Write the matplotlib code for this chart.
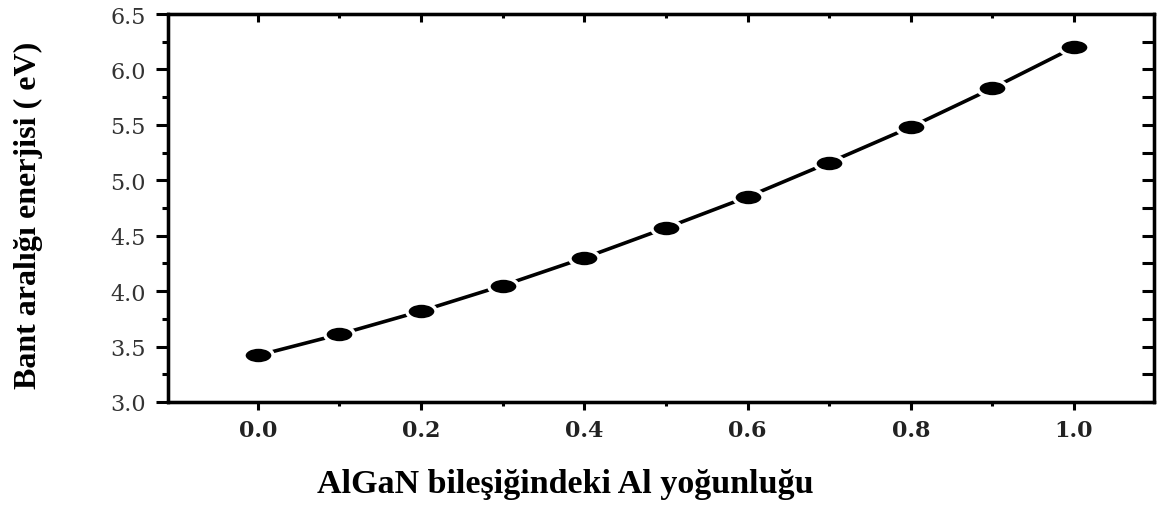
import numpy as np
import matplotlib
matplotlib.use("Agg")
import matplotlib.pyplot as plt
from matplotlib.path import Path
from matplotlib.transforms import Affine2D

# Data
al_fraction = [0.0, 0.1, 0.2, 0.3, 0.4, 0.5, 0.6, 0.7, 0.8, 0.9, 1.0]
band_gap = [3.42, 3.61, 3.82, 4.05, 4.30, 4.57, 4.85, 5.16, 5.48, 5.83, 6.20]
x_ticks = [0.0, 0.2, 0.4, 0.6, 0.8, 1.0]
x_tick_labels = ["0.0", "0.2", "0.4", "0.6", "0.8", "1.0"]
y_ticks = [3.0, 3.5, 4.0, 4.5, 5.0, 5.5, 6.0, 6.5]
y_tick_labels = ["3.0", "3.5", "4.0", "4.5", "5.0", "5.5", "6.0", "6.5"]
x_label = "AlGaN bileşiğindeki Al yoğunluğu"
y_label = "Bant aralığı enerjisi ( eV)"

W, H = 1169, 510
fig = plt.figure(figsize=(W / 100, H / 100), dpi=100)
ax = fig.add_axes([168 / W, 1 - 403 / H, 986 / W, 388 / H])

ellipse = Path.unit_circle().transformed(Affine2D().scale(1.0, 0.58))

ax.plot(al_fraction, band_gap, color="black", lw=2.6, zorder=2)
ax.plot(al_fraction, band_gap, ls="none", marker=ellipse, ms=21,
        mfc="black", mec="white", mew=2.5, zorder=3)

ax.set_xlim(-0.11, 1.098)
ax.set_ylim(3.0, 6.5)

for s in ax.spines.values():
    s.set_linewidth(2.3)

ax.set_xticks(x_ticks)
ax.set_xticklabels(x_tick_labels, fontfamily="DejaVu Serif", fontweight="bold",
                   fontsize=16, color="#222222")
ax.set_xticks(np.arange(0.1, 1.0, 0.2), minor=True)
ax.set_yticks(y_ticks)
ax.set_yticklabels(y_tick_labels, fontfamily="DejaVu Serif", fontsize=16,
                   color="#333333")
ax.set_yticks(np.arange(3.25, 6.5, 0.5), minor=True)

ax.tick_params(axis="x", which="major", direction="out", length=6, width=2.2, pad=6)
ax.tick_params(axis="x", which="minor", direction="out", length=3, width=2.2)
ax.tick_params(axis="y", which="major", direction="out", length=9, width=2.2, pad=7)
ax.tick_params(axis="y", which="minor", direction="out", length=4.5, width=2.2)

# right ticks (inward, every 0.25)
axr = ax.twinx()
axr.set_ylim(3.0, 6.5)
axr.set_yticks(np.arange(3.0, 6.51, 0.25))
axr.tick_params(axis="y", direction="in", length=9, width=2.2, labelright=False)
# top ticks (inward)
axt = ax.twiny()
axt.set_xlim(-0.11, 1.098)
axt.set_xticks(x_ticks)
axt.set_xticks(np.arange(0.1, 1.0, 0.2), minor=True)
axt.tick_params(axis="x", which="major", direction="in", length=6, width=2.2, labeltop=False)
axt.tick_params(axis="x", which="minor", direction="in", length=3, width=2.2)
for a in (axr, axt):
    for s in a.spines.values():
        s.set_linewidth(2.3)

fig.text(565 / W, 1 - 485 / H, x_label, ha="center", va="center",
         fontfamily="Liberation Serif", fontweight="bold", fontsize=24.5)
fig.text(28 / W, 1 - 215 / H, y_label, ha="center", va="center", rotation=90,
         fontfamily="Liberation Serif", fontweight="bold", fontsize=23)

fig.savefig("out.png", dpi=100)
